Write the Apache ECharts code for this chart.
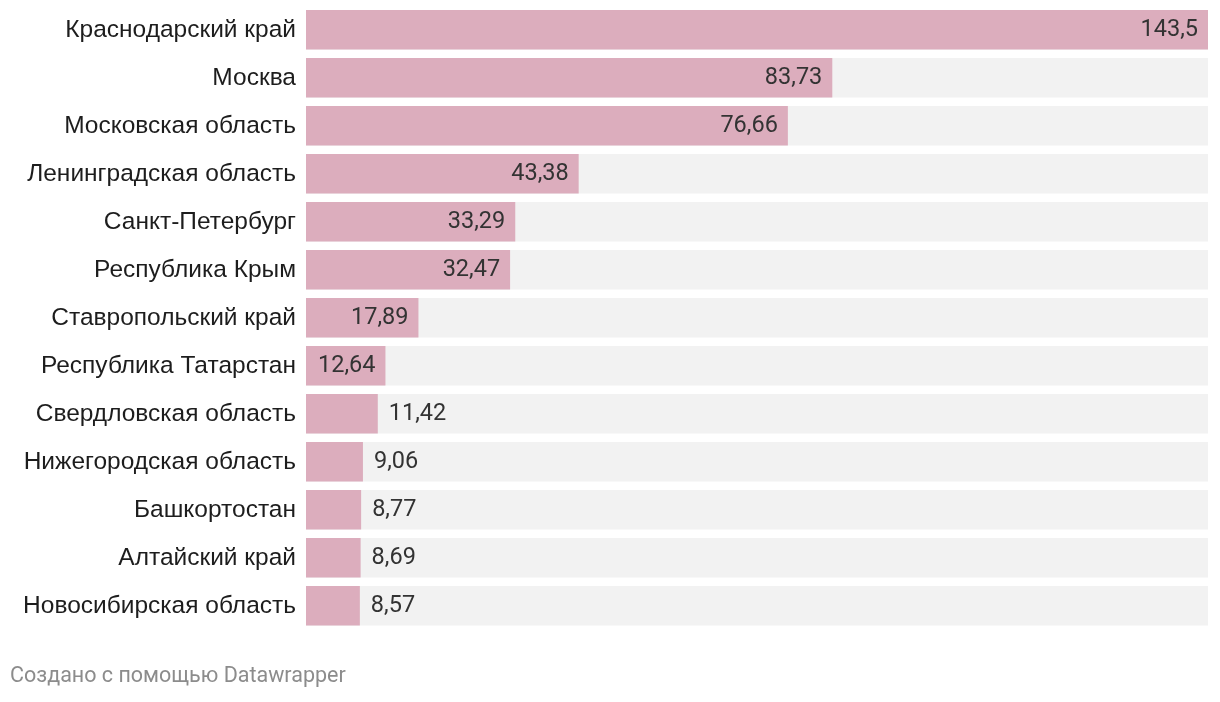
<!DOCTYPE html>
<html><head><meta charset="utf-8">
<script src="https://cdn.jsdelivr.net/npm/echarts@6/dist/echarts.min.js"></script>
<style>html,body{margin:0;padding:0;background:#fff}#c{width:1220px;height:702px}</style>
</head><body><div id="c"></div>
<script>
const categories = ["Краснодарский край","Москва","Московская область","Ленинградская область","Санкт-Петербург","Республика Крым","Ставропольский край","Республика Татарстан","Свердловская область","Нижегородская область","Башкортостан","Алтайский край","Новосибирская область"];
const values = [143.5,83.73,76.66,43.38,33.29,32.47,17.89,12.64,11.42,9.06,8.77,8.69,8.57];
const valueLabels = ["143,5","83,73","76,66","43,38","33,29","32,47","17,89","12,64","11,42","9,06","8,77","8,69","8,57"];
const insideCount = 8;

const chart = echarts.init(document.getElementById('c'));
chart.setOption({
  animation:false,
  grid:{left:306,right:12,top:5.75,height:624,containLabel:false},
  xAxis:{type:'value',min:0,max:143.5,show:false},
  yAxis:{type:'category',data:categories,inverse:true,
    axisLine:{show:false},axisTick:{show:false},splitLine:{show:false},
    axisLabel:{margin:10,fontFamily:'"Liberation Sans", Arial, sans-serif',fontSize:24.5,color:'#1d1d1d'}},
  series:[{type:'bar',barWidth:39.5,
    showBackground:true,backgroundStyle:{color:'#f2f2f2'},
    itemStyle:{color:'#dcadbd'},
    data:values.map((v,i)=>({value:v,label:{position:i<insideCount?'insideRight':'right',distance:i<insideCount?10:11}})),
    label:{show:true,fontFamily:'Roboto',fontSize:23.5,color:'#333',
      formatter:p=>valueLabels[p.dataIndex]}}],
  graphic:[{type:'text',left:10,top:666,style:{text:'Создано с помощью Datawrapper',fontFamily:'Roboto',fontSize:21.5,fill:'#8c8c8c'}}]
});
</script></body></html>
